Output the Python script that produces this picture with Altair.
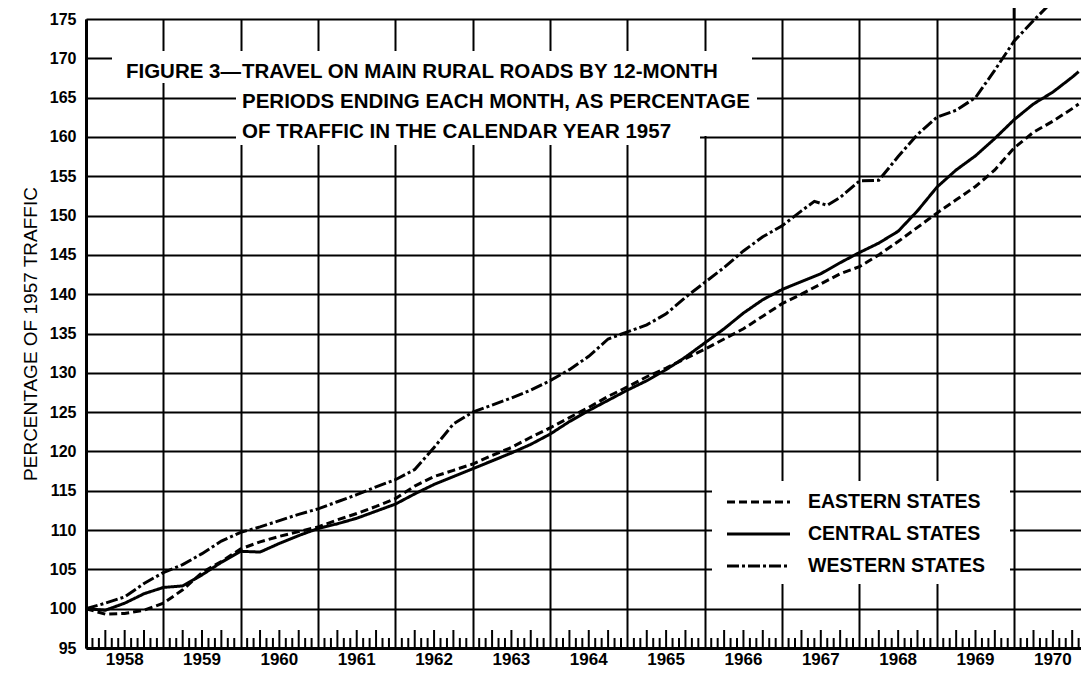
import altair as alt
import pandas as pd

# ---- data (months counted from December 1957; value = % of 1957 traffic) ----
W_MONTHS = [0, 3, 6, 9, 12, 15, 18, 21, 24, 27, 30, 33, 36, 39, 42, 45, 48, 51, 54, 57,
            60, 63, 66, 69, 72, 75, 78, 81, 84, 87, 90, 93, 96, 99, 102, 105, 108, 111,
            113, 115, 117, 120, 123, 126, 129, 132, 135, 138, 141, 144, 147, 150, 153]
W_VALUES = [100.0, 100.7, 101.5, 103.2, 104.6, 105.6, 107.0, 108.6, 109.7, 110.4, 111.2,
            112.0, 112.7, 113.6, 114.5, 115.5, 116.4, 117.7, 120.5, 123.5, 125.0, 125.9,
            126.8, 127.8, 129.0, 130.4, 132.1, 134.3, 135.2, 136.1, 137.5, 139.6, 141.5,
            143.4, 145.5, 147.3, 148.7, 150.6, 151.8, 151.3, 152.3, 154.4, 154.5, 157.5,
            160.3, 162.5, 163.4, 165.0, 168.5, 172.2, 174.8, 177.3, 179.5]

CE_MONTHS = [0, 3, 6, 9, 12, 15, 18, 21, 24, 27, 30, 33, 36, 39, 42, 45, 48, 51, 54, 57,
             60, 63, 66, 69, 72, 75, 78, 81, 84, 87, 90, 93, 96, 99, 102, 105, 108, 111,
             114, 117, 120, 123, 126, 129, 132, 135, 138, 141, 144, 147, 150, 153, 154]
C_VALUES = [100.0, 99.8, 100.7, 101.9, 102.7, 102.9, 104.3, 105.9, 107.3, 107.2, 108.3,
            109.3, 110.2, 110.8, 111.5, 112.4, 113.3, 114.6, 115.8, 116.8, 117.8, 118.8,
            119.8, 120.9, 122.2, 123.8, 125.2, 126.5, 127.8, 129.0, 130.4, 132.0, 133.8,
            135.6, 137.6, 139.3, 140.6, 141.6, 142.6, 144.0, 145.3, 146.5, 148.0, 150.6,
            153.6, 155.8, 157.6, 159.8, 162.2, 164.2, 165.7, 167.6, 168.3]
E_VALUES = [100.0, 99.3, 99.4, 99.8, 100.7, 102.4, 104.6, 106.0, 107.6, 108.5, 109.2,
            109.8, 110.4, 111.3, 112.1, 113.0, 114.0, 115.6, 116.8, 117.6, 118.4, 119.5,
            120.5, 121.8, 123.0, 124.3, 125.6, 127.0, 128.2, 129.5, 130.6, 131.8, 133.0,
            134.3, 135.6, 137.2, 138.8, 140.0, 141.3, 142.6, 143.5, 145.0, 146.7, 148.5,
            150.3, 152.0, 153.7, 155.8, 158.6, 160.6, 162.0, 163.6, 164.2]

SERIES = ["EASTERN STATES", "CENTRAL STATES", "WESTERN STATES"]
DASHES = [[8, 4], [1, 0], [12, 3, 3, 3]]
YEARS = list(range(1958, 1971))
Y_TICKS = list(range(95, 176, 5))

START = 1958.0
X_END = 1970.864

rows = []
for s, months, vals in [(SERIES[0], CE_MONTHS, E_VALUES),
                        (SERIES[1], CE_MONTHS, C_VALUES),
                        (SERIES[2], W_MONTHS, W_VALUES)]:
    for m, v in zip(months, vals):
        rows.append({"t": START + m / 12.0, "value": v, "series": s})
df = pd.DataFrame(rows)

W, H = 995, 629
xscale = alt.Scale(domain=[START, X_END], nice=False, zero=False)
yscale = alt.Scale(domain=[95, 175], nice=False, zero=False)

FONT = "Liberation Sans"

XAX = alt.Axis(values=YEARS, grid=True, gridColor="black", gridWidth=2, gridOpacity=1,
               labels=False, ticks=False, domain=True, domainColor="black", domainWidth=3,
               title=None, zindex=0)
YAX = alt.Axis(values=Y_TICKS, labelOverlap=False, grid=True, gridColor="black", gridWidth=2,
               gridOpacity=1, ticks=False, domain=True, domainColor="black",
               domainWidth=3, labelFontSize=16, labelFontWeight="bold",
               labelColor="black", labelPadding=10, labelFont=FONT,
               title="PERCENTAGE OF 1957 TRAFFIC", titleFontSize=19,
               titleFontWeight="normal", titleFont=FONT, titleColor="black",
               titleX=-56, titleY=H / 2, titleAngle=270, titleAlign="center",
               titleBaseline="middle", zindex=0)

X = lambda: alt.X("t:Q", scale=xscale, axis=XAX)

# month ticks pointing up from the bottom axis
tick_short = [START + k / 12.0 for k in range(1, 155) if k % 12 != 0 and k % 3 != 0]
tick_tall = [START + k / 12.0 for k in range(1, 155) if k % 12 != 0 and k % 3 == 0]
ticks_s = alt.Chart(pd.DataFrame({"t": tick_short})).mark_rule(color="black", strokeWidth=2).encode(
    x=X(), y=alt.value(H), y2=alt.value(H - 10))
ticks_t = alt.Chart(pd.DataFrame({"t": tick_tall})).mark_rule(color="black", strokeWidth=2).encode(
    x=X(), y=alt.value(H), y2=alt.value(H - 18))

year_labels = alt.Chart(pd.DataFrame({"t": [y + 0.5 for y in YEARS], "label": [str(y) for y in YEARS]})).mark_text(
    font=FONT, fontSize=17, fontWeight="bold", color="black", baseline="middle", align="center"
).encode(x=X(), y=alt.value(H + 12), text="label:N")

top_mark = alt.Chart(pd.DataFrame({"t": [1970.0]})).mark_rule(color="black", strokeWidth=3).encode(
    x=X(), y=alt.value(-12), y2=alt.value(0))

one = pd.DataFrame({"a": [0]})


def box(x1, x2, y1, y2):
    return alt.Chart(one).mark_rect(fill="white").encode(
        x=alt.value(x1), x2=alt.value(x2), y=alt.value(y1), y2=alt.value(y2))


boxes = [box(26, 666, 32, 64), box(150, 671, 64, 117), box(150, 614, 117, 126),
         box(626, 924, 462, 565)]

TITLE_PARTS = [("FIGURE 3—", 155, 53, "right"),
               ("TRAVEL ON MAIN RURAL ROADS BY 12-MONTH", 156, 53, "left"),
               ("PERIODS ENDING EACH MONTH, AS PERCENTAGE", 156, 83, "left"),
               ("OF TRAFFIC IN THE CALENDAR YEAR 1957", 156, 113, "left")]
titles = [alt.Chart(one).mark_text(font=FONT, fontSize=20.5, fontWeight="bold", color="black",
                                   align=al, baseline="middle", text=txt).encode(
    x=alt.value(px), y=alt.value(py)) for txt, px, py, al in TITLE_PARTS]

legend_y = [483, 515, 547]
legend_items = []
for name, dash, ly in zip(SERIES, DASHES, legend_y):
    legend_items.append(alt.Chart(one).mark_rule(color="black", strokeWidth=3, strokeDash=dash).encode(
        x=alt.value(641), x2=alt.value(704), y=alt.value(ly)))
    legend_items.append(alt.Chart(one).mark_text(font=FONT, fontSize=19.5, fontWeight="bold",
                                                 color="black", align="left", baseline="middle",
                                                 text=name).encode(
        x=alt.value(722), y=alt.value(ly)))

lines = alt.Chart(df).mark_line(color="black", strokeWidth=3).encode(
    x=X(),
    y=alt.Y("value:Q", scale=yscale, axis=YAX),
    strokeDash=alt.StrokeDash("series:N", scale=alt.Scale(domain=SERIES, range=DASHES), legend=None),
    detail="series:N",
)

chart = alt.layer(lines, ticks_s, ticks_t, year_labels, top_mark, *boxes, *titles,
                  *legend_items).properties(
    width=W, height=H,
    autosize=alt.AutoSizeParams(type="none"),
    padding={"left": 78, "top": 11, "right": 0, "bottom": 21},
    background="white",
).configure_view(stroke=None)

chart.save("out.html", embed_options={"renderer": "svg", "actions": False})
